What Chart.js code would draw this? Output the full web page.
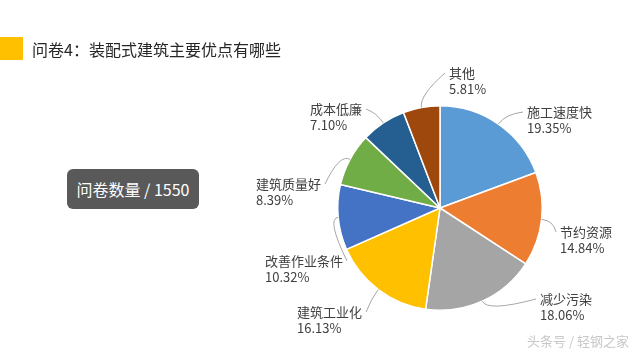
<!DOCTYPE html>
<html>
<head>
<meta charset="utf-8">
<script src="https://cdn.jsdelivr.net/npm/chart.js@4"></script>
<style>
  html, body { margin: 0; padding: 0; background: #fff; }
  #wrap { position: relative; width: 640px; height: 360px; overflow: hidden;
          font-family: "Noto Sans CJK SC", "Noto Sans", sans-serif; }
  #mark { position: absolute; left: 0; top: 37px; width: 23px; height: 23px; background: #FFC000; }
  #title { position: absolute; left: 32px; top: 38px; font-size: 16px; line-height: 22px; color: #262626; }
  #count { position: absolute; left: 67px; top: 169px; width: 132px; height: 40px; border-radius: 6px;
           background: #595959; color: #fff; font-size: 16px; line-height: 40px; text-align: center; }
  #wm { position: absolute; left: 527px; top: 331px; font-size: 13px; color: #c8c8c8; }
  canvas { position: absolute; left: 0; top: 0; }
</style>
</head>
<body>
<div id="wrap">
  <canvas id="myChart" width="640" height="360"></canvas>
  <div id="mark"></div>
  <div id="title">问卷4：装配式建筑主要优点有哪些</div>
  <div id="count">问卷数量 / 1550</div>
  <div id="wm">头条号 / 轻钢之家</div>
</div>
<script>
const labels = ['施工速度快', '节约资源', '减少污染', '建筑工业化', '改善作业条件', '建筑质量好', '成本低廉', '其他'];
const percents = [19.35, 14.84, 18.06, 16.13, 10.32, 8.39, 7.10, 5.81];
const colors = ['#5B9BD5', '#ED7D31', '#A5A5A5', '#FFC000', '#4472C4', '#70AD47', '#255E91', '#9E480E'];

// where each label's first line sits, relative to the pie centre (px)
const labelAt = [[87, -96], [120, 24], [100, 91], [-143, 104], [-175, 53], [-184, -24], [-130, -99], [9, -135]];

const outsideLabels = {
    id: 'outsideLabels',
    afterDatasetsDraw(chart) {
        const ctx = chart.ctx;
        const meta = chart.getDatasetMeta(0);
        ctx.save();
        ctx.font = '13px "Noto Sans CJK SC", "Noto Sans", sans-serif';
        ctx.textBaseline = 'middle';
        ctx.textAlign = 'left';
        meta.data.forEach((arc, i) => {
            const p = arc.getProps(['x', 'y', 'startAngle', 'endAngle', 'outerRadius'], true);
            const mid = (p.startAngle + p.endAngle) / 2;
            const sx = p.x + Math.cos(mid) * p.outerRadius;
            const sy = p.y + Math.sin(mid) * p.outerRadius;
            const cx = sx + Math.cos(mid) * 12;
            const cy = sy + Math.sin(mid) * 12;
            const tx = p.x + labelAt[i][0];
            const ty = p.y + labelAt[i][1];
            const w = ctx.measureText(labels[i]).width;
            let ex, ey;
            if (labelAt[i][0] >= 0) { ex = tx - 4; ey = ty; }
            else { ex = tx + w + 4; ey = ty; }
            ctx.strokeStyle = '#a6a6a6';
            ctx.lineWidth = 1;
            ctx.beginPath();
            ctx.moveTo(sx, sy);
            ctx.quadraticCurveTo(cx, cy, ex, ey);
            ctx.stroke();
            ctx.fillStyle = '#404040';
            ctx.fillText(labels[i], tx, ty);
            ctx.fillText(percents[i].toFixed(2) + '%', tx, ty + 16);
        });
        ctx.restore();
    }
};

const data = {
    labels: labels,
    datasets: [{
        data: percents,
        backgroundColor: colors,
        borderColor: '#ffffff',
        borderWidth: 1.5
    }]
};
const config = {
    type: 'pie',
    data: data,
    options: {
        responsive: false,
        animation: false,
        layout: { padding: { left: 337, right: 97, top: 105, bottom: 49 } },
        plugins: { legend: { display: false }, tooltip: { enabled: false } }
    },
    plugins: [outsideLabels]
};
const myChart = new Chart(document.getElementById('myChart'), config);
</script>
</body>
</html>
